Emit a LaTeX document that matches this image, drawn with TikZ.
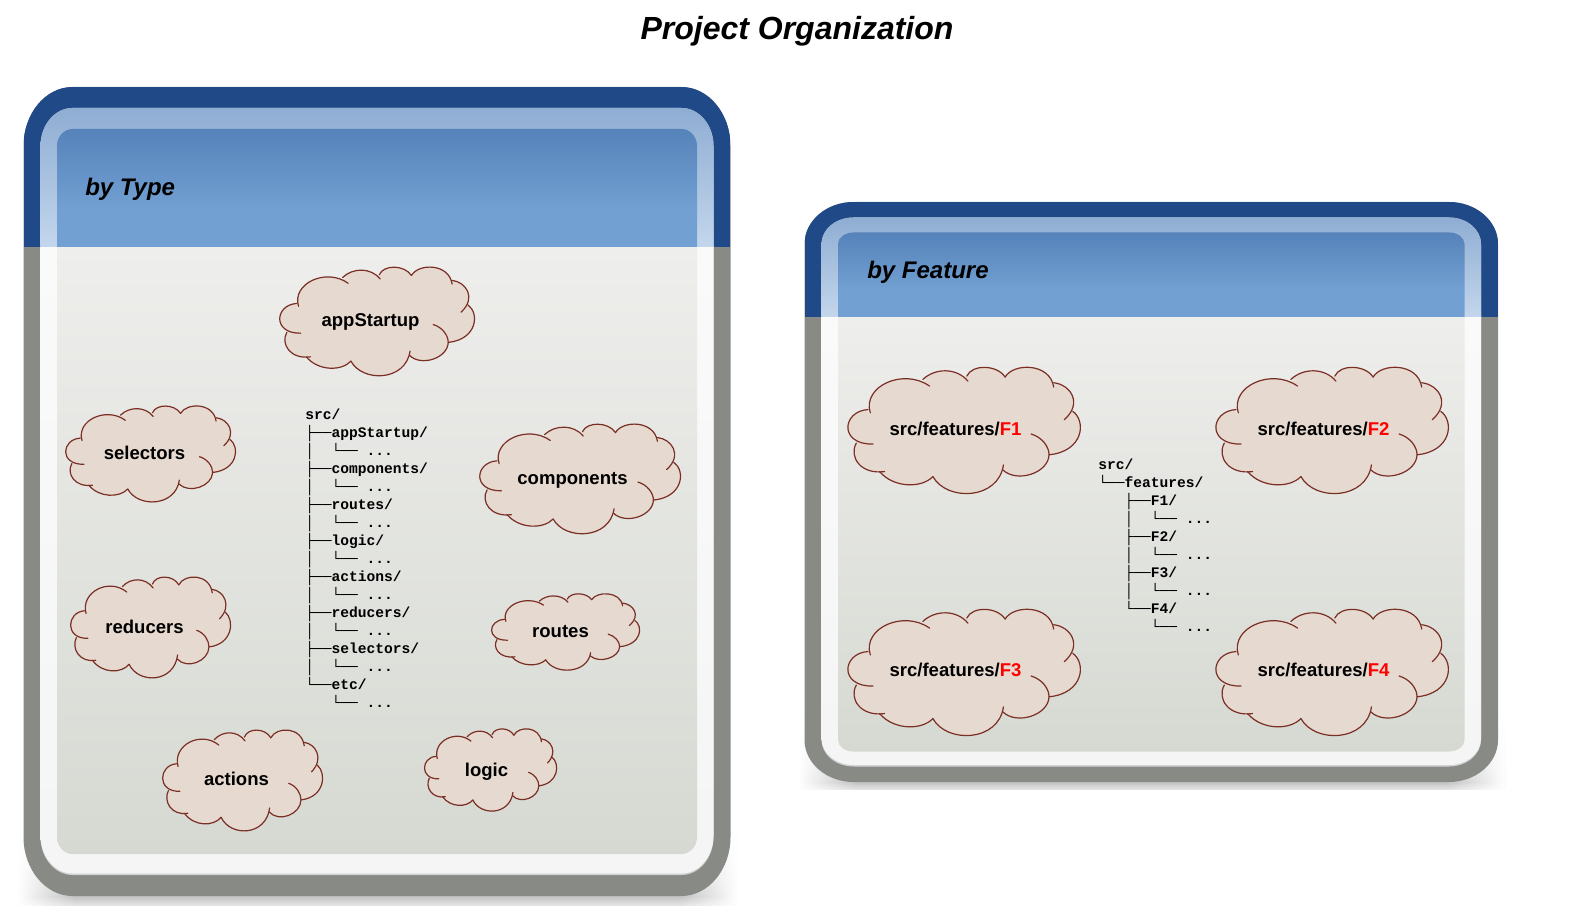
\documentclass[tikz,border=0pt]{standalone}
\usepackage{fontspec}
\setmainfont{Liberation Sans}
\setmonofont{Liberation Mono}
\usetikzlibrary{fadings}

\definecolor{winblue}{HTML}{204A87}
\definecolor{wingray}{HTML}{888A85}
\definecolor{ringtop}{HTML}{8FADD3}
\definecolor{ringlow}{HTML}{C3D6EC}
\definecolor{headtop}{HTML}{5583BA}
\definecolor{headlow}{HTML}{72A0D2}
\definecolor{bodytop}{HTML}{EEEEEC}
\definecolor{bodylow}{HTML}{D6D9D2}
\definecolor{cloudfill}{HTML}{E6D9CF}
\definecolor{cloudline}{HTML}{7A2E24}

\tikzset{
  title/.style={font=\fontsize{24}{28}\selectfont\bfseries\itshape},
  wintitle/.style={font=\fontsize{18}{22}\selectfont\bfseries\itshape, anchor=west, inner sep=0pt},
  cloudlabel/.style={font=\fontsize{13.9}{16}\selectfont\bfseries},
  filetree/.style={font=\fontsize{10.95}{13.5}\selectfont\ttfamily\bfseries, align=left, anchor=north west, inner sep=0pt},
  cloudstroke/.style={draw=cloudline, line width=0.9pt, line cap=round}
}

% rounded box: left, top, right, bottom, x radius, y radius
\newcommand{\boxpath}[6]{(#1,{#2+#6}) .. controls (#1,{#2+.45*#6}) and ({#1+.45*#5},#2) .. ({#1+#5},#2)
  -- ({#3-#5},#2) .. controls ({#3-.45*#5},#2) and (#3,{#2+.45*#6}) .. (#3,{#2+#6})
  -- (#3,{#4-#6}) .. controls (#3,{#4-.45*#6}) and ({#3-.45*#5},#4) .. ({#3-#5},#4)
  -- ({#1+#5},#4) .. controls ({#1+.45*#5},#4) and (#1,{#4-.45*#6}) .. (#1,{#4-#6}) -- cycle}

% left, top, right, bottom, split, ring inset, inner inset, y radius, shadow depth
\newcommand{\projwindow}[9]{
  \pgfmathsetmacro{\ringl}{#1+17}
  \pgfmathsetmacro{\ringr}{#3-17}
  \pgfmathsetmacro{\ringt}{#2+#6}
  \pgfmathsetmacro{\ringb}{#4-#6}
  \pgfmathsetmacro{\ringc}{\ringb-1.5}
  \pgfmathsetmacro{\innl}{#1+33.5}
  \pgfmathsetmacro{\innr}{#3-33.5}
  \pgfmathsetmacro{\innt}{#2+#7}
  \pgfmathsetmacro{\innb}{#4-#7}
  \pgfmathsetmacro{\ringry}{#8-#6}
  \pgfmathsetmacro{\innry}{#8-#7}
  \pgfmathsetmacro{\headm}{\innt+.68*(#5-\innt)}
  % shadow
  \shade[top color=white, bottom color=black!24] ({#1-6},{#4-65}) rectangle ({#3+7},#4);
  \shade[top color=black!24, bottom color=black!11] ({#1-6},#4) rectangle ({#3+7},{#4+#9});
  \shade[left color=white, right color=white, path fading=east] ({#1-6},{#4-65}) rectangle ({#1+52},{#4+#9});
  \shade[left color=white, right color=white, path fading=west] ({#3-52},{#4-65}) rectangle ({#3+7},{#4+#9});
  % outer
  \fill[wingray] \boxpath{#1}{#2}{#3}{#4}{49}{#8};
  \begin{scope}
    \clip \boxpath{#1}{#2}{#3}{#4}{49}{#8};
    \fill[winblue] (#1,#2) rectangle (#3,#5);
  \end{scope}
  % ring
  \fill[black!18] \boxpath{\ringl}{\ringt}{\ringr}{\ringb}{32}{\ringry};
  \begin{scope}
    \clip \boxpath{\ringl}{\ringt}{\ringr}{\ringc}{32}{\ringry};
    \shade[top color=black!2, bottom color=black!4] ({\ringl-3},#5) rectangle ({\ringr+3},\ringb);
    \shade[top color=ringtop, bottom color=ringlow] ({\ringl-3},\ringt) rectangle ({\ringr+3},#5);
  \end{scope}
  % inner
  \begin{scope}
    \clip \boxpath{\innl}{\innt}{\innr}{\innb}{15.5}{\innry};
    \shade[top color=bodytop, bottom color=bodylow] ({\innl-3},#5) rectangle ({\innr+3},\innb);
    \fill[headlow] ({\innl-3},\headm) rectangle ({\innr+3},#5);
    \shade[top color=headtop, bottom color=headlow] ({\innl-3},\innt) rectangle ({\innr+3},\headm);
  \end{scope}
}

% the lobes of a cloud, in a box of 703 by 385
\newcommand{\cloudlobes}[1]{
  \path[#1] (70,140) .. controls (45,60) and (170,5) .. (248,60);
  \path[#1] (228,40) .. controls (265,5) and (330,5) .. (363,45);
  \path[#1] (360,30) .. controls (375,-5) and (450,-5) .. (475,33);
  \path[#1] (475,33) .. controls (500,-10) and (610,-10) .. (621,63);
  \path[#1] (621,50) .. controls (670,55) and (710,110) .. (653,160);
  \path[#1] (678,135) .. controls (720,165) and (710,255) .. (607,265);
  \path[#1] (553,203) .. controls (585,212) and (607,240) .. (607,265)
    .. controls (605,320) and (510,350) .. (468,310);
  \path[#1] (470,295) .. controls (455,400) and (300,405) .. (258,330);
  \path[#1] (258,330) .. controls (225,365) and (140,365) .. (98,315);
  \path[#1] (28,230) .. controls (5,270) and (40,325) .. (113,315);
  \path[#1] (78,233) .. controls (-25,235) and (-15,135) .. (63,130);
}

\begin{document}
\begin{tikzpicture}[x=0.75pt, y=-0.75pt]

  \useasboundingbox (0,0) rectangle (1569,923);

  \node[title] (title) at (797,31) {Project Organization};

  \projwindow{23.5}{87}{730.5}{896}{247}{21}{42}{59}{9}
  \projwindow{804.5}{202}{1498}{782}{317}{15.5}{30.5}{42}{7}

  \node[wintitle] (bytype) at (85,189.5) {by Type};
  \node[wintitle] (byfeature) at (867,272.5) {by Feature};

  % the clouds: name, left, top, right, bottom, then the label
  \foreach \n/\xa/\ya/\xb/\yb/\tx/\ty/\l in {
    appstartup/279/266/475/377/370.5/322/{appStartup},
    selectors/65/405/236/503/144.5/453/{selectors},
    components/479/423/681/535/572.5/480/{components},
    reducers/70/576/231/679/144.5/627/{reducers},
    routes/491/593/640/671/560.5/632/{routes},
    actions/162/729/323/832/236.5/779/{actions},
    logic/424/728/557/812/486.5/772/{logic},
    fone/847/366/1081/495/955.5/429/{src/features/\textcolor{red}{F1}},
    ftwo/1215/366/1449/495/1323.5/429/{src/features/\textcolor{red}{F2}},
    fthree/847/608/1081/737/955.5/670/{src/features/\textcolor{red}{F3}},
    ffour/1215/608/1449/737/1323.5/670/{src/features/\textcolor{red}{F4}}} {
    \pgfmathsetmacro{\sx}{(\xb-\xa)/703}
    \pgfmathsetmacro{\sy}{(\yb-\ya)/385}
    \begin{scope}[shift={(\xa,\ya)}, xscale=\sx, yscale=\sy]
      \fill[cloudfill] (70,140) -- (228,45) -- (300,35) -- (363,30) -- (475,33) -- (621,55) -- (678,135)
        -- (607,265) -- (468,310) -- (258,330) -- (98,315) -- (28,230) -- cycle;
      \cloudlobes{fill=cloudfill}
      \cloudlobes{cloudstroke}
    \end{scope}
    \node[cloudlabel] (\n) at (\tx,\ty) {\l};
  }

  \node[filetree] (typetree) at (305,408.5) {src/\\
    ├──appStartup/\\
    │\ \ └── ...\\
    ├──components/\\
    │\ \ └── ...\\
    ├──routes/\\
    │\ \ └── ...\\
    ├──logic/\\
    │\ \ └── ...\\
    ├──actions/\\
    │\ \ └── ...\\
    ├──reducers/\\
    │\ \ └── ...\\
    ├──selectors/\\
    │\ \ └── ...\\
    └──etc/\\
    \ \ \ └── ...};

  \node[filetree] (featuretree) at (1098,458.5) {src/\\
    └──features/\\
    \ \ \ ├──F1/\\
    \ \ \ │\ \ └── ...\\
    \ \ \ ├──F2/\\
    \ \ \ │\ \ └── ...\\
    \ \ \ ├──F3/\\
    \ \ \ │\ \ └── ...\\
    \ \ \ └──F4/\\
    \ \ \ \ \ \ └── ...};

\end{tikzpicture}
\end{document}
